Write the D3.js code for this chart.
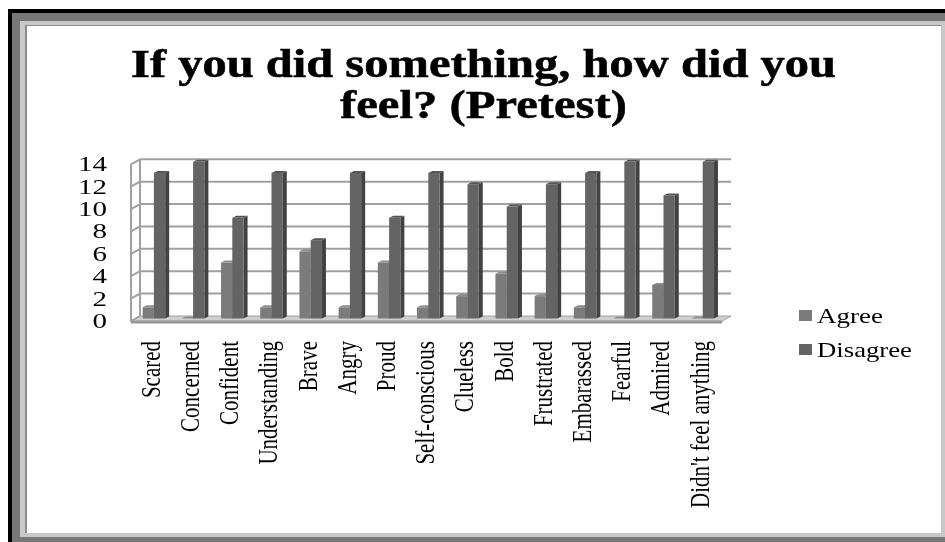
<!DOCTYPE html>
<html>
<head>
<meta charset="utf-8">
<script src="https://cdn.jsdelivr.net/npm/d3@7/dist/d3.min.js"></script>
<style>
  html, body { margin: 0; padding: 0; background: #fff; }
  svg { display: block; filter: blur(0.35px); }
  text { font-family: "Liberation Serif", serif; fill: #000; }
</style>
</head>
<body>
<div id="chart"></div>
<script>
const categories = ["Scared", "Concerned", "Confident", "Understanding", "Brave", "Angry", "Proud",
  "Self-conscious", "Clueless", "Bold", "Frustrated", "Embarassed", "Fearful", "Admired", "Didn't feel anything"];
const agree = [1, 0, 5, 1, 6, 1, 5, 1, 2, 4, 2, 1, 0, 3, 0];
const disagree = [13, 14, 9, 13, 7, 13, 9, 13, 12, 10, 12, 13, 14, 11, 14];
const seriesNames = ["Agree", "Disagree"];
const yTicks = [0, 2, 4, 6, 8, 10, 12, 14];

const W = 945, H = 542;
const svg = d3.select("#chart").append("svg").attr("width", W).attr("height", H);

// picture frame
const frame = [
  { x: 8, y: 9, w: 937, h: 533, c: "#000" },
  { x: 12, y: 13, w: 933, h: 529, c: "#777" },
  { x: 20, y: 21, w: 925, h: 516, c: "#c8c8c8" },
  { x: 25, y: 25, w: 916, h: 508, c: "#8c8c8c" },
  { x: 27, y: 26, w: 914, h: 507, c: "#fff" }
];
svg.selectAll("rect.frame").data(frame).enter().append("rect")
  .attr("class", "frame")
  .attr("x", d => d.x).attr("y", d => d.y)
  .attr("width", d => d.w).attr("height", d => d.h)
  .attr("fill", d => d.c);

// title, stretched to the width it has in the slide
const title = [
  { t: "If you did something, how did you", x: 131, y: 77, len: 705 },
  { t: "feel? (Pretest)", x: 340, y: 118, len: 287 }
];
svg.selectAll("text.title").data(title).enter().append("text")
  .attr("class", "title")
  .attr("x", d => d.x).attr("y", d => d.y)
  .attr("textLength", d => d.len)
  .attr("lengthAdjust", "spacingAndGlyphs")
  .attr("font-size", 39)
  .attr("font-weight", "bold")
  .attr("stroke", "#000").attr("stroke-width", 0.5)
  .text(d => d.t);

// fake 3D box: back wall is offset from the front edge by depth
const left = 131, right = 722, depthX = 9, depthY = 5;

const y = d3.scaleLinear().domain([0, 14]).range([316, 159.3]);
const x = d3.scaleBand().domain(categories).range([left, left + 588]);
const x1 = d3.scaleBand().domain(seriesNames).range([0, x.bandwidth()]).paddingOuter(0.74);

const floorPts = [[left, 321.5], [right, 321.5], [right + depthX, y(0)], [left + depthX, y(0)]];
svg.append("polygon")
  .attr("points", floorPts.join(" "))
  .attr("fill", "#cfcfcf").attr("stroke", "#a2a2a2").attr("stroke-width", 1);
svg.append("line")
  .attr("x1", left).attr("x2", right).attr("y1", 322).attr("y2", 322)
  .attr("stroke", "#969696").attr("stroke-width", 3);

// gridlines on back wall and left wall
const grid = svg.append("g").attr("fill", "none").attr("stroke", "#a0a0a0").attr("stroke-width", 2);
grid.selectAll("line").data(yTicks.filter(d => d > 0)).enter().append("line")
  .attr("x1", left + depthX).attr("x2", right + depthX)
  .attr("y1", d => y(d)).attr("y2", d => y(d));
grid.selectAll("path").data(yTicks).enter().append("path")
  .attr("d", d => `M${left},${y(d) + depthY}L${left + depthX},${y(d)}`);
grid.append("line")
  .attr("x1", left).attr("x2", left).attr("y1", y(14) + depthY).attr("y2", 322);
grid.append("line")
  .attr("x1", left + depthX).attr("x2", left + depthX).attr("y1", y(14)).attr("y2", y(0));

// bars
const colors = {
  Agree: { front: "#7b7b7b", side: "#5c5c5c", top: "#8e8e8e" },
  Disagree: { front: "#646464", side: "#424242", top: "#555" }
};
const barShiftX = 3.3, barShiftY = 2.5, sideW = 4, topH = 2;
const rows = categories.map((c, i) => ({ c, Agree: agree[i], Disagree: disagree[i] }));

const groups = svg.selectAll("g.group").data(rows).enter().append("g")
  .attr("class", "group")
  .attr("transform", d => `translate(${x(d.c) + barShiftX},${barShiftY})`);

seriesNames.forEach(name => {
  const bw = x1.bandwidth(), x0 = x1(name);
  const col = colors[name];
  groups.append("path") // side
    .attr("d", d => `M${x0 + bw},${y(d[name])}l${sideW},${-topH}V${y(0) - topH}l${-sideW},${topH}Z`)
    .attr("fill", col.side);
  groups.append("path") // top
    .attr("d", d => `M${x0},${y(d[name])}l${sideW},${-topH}h${bw}l${-sideW},${topH}Z`)
    .attr("fill", col.top);
  groups.append("rect") // front
    .attr("x", x0).attr("width", bw)
    .attr("y", d => y(d[name]))
    .attr("height", d => y(0) - y(d[name]))
    .attr("fill", col.front);
});

// y axis sits on the front edge of the left wall
const yAxis = svg.append("g")
  .attr("transform", `translate(${left},${depthY})`)
  .call(d3.axisLeft(y).tickValues(yTicks).tickSize(0));
yAxis.select(".domain").remove();
yAxis.selectAll("text")
  .attr("x", -24 / 1.45)
  .attr("transform", "scale(1.45,1)")
  .attr("font-family", "Liberation Serif")
  .attr("font-size", 20);

// category labels
const xAxis = svg.append("g")
  .attr("transform", "translate(0,321)")
  .call(d3.axisBottom(x).tickSize(0));
xAxis.select(".domain").remove();
xAxis.selectAll("text")
  .attr("font-family", "Liberation Serif")
  .attr("font-size", 21)
  .attr("text-anchor", "end")
  .attr("x", 0).attr("y", 0).attr("dy", "0.34em")
  .attr("transform", "translate(0,20) rotate(-90) scale(1,1.3)");

// legend
const legendY = d3.scalePoint().domain(seriesNames).range([310, 344]);
const legend = svg.selectAll("g.legend").data(seriesNames).enter().append("g")
  .attr("class", "legend")
  .attr("transform", d => `translate(799,${legendY(d)})`);
legend.append("rect")
  .attr("width", 13).attr("height", 11)
  .attr("fill", d => colors[d].front);
legend.append("text")
  .attr("x", 18).attr("y", 12.5)
  .attr("font-size", 21)
  .attr("textLength", d => d === "Agree" ? 66 : 95)
  .attr("lengthAdjust", "spacingAndGlyphs")
  .text(d => d);
</script>
</body>
</html>
